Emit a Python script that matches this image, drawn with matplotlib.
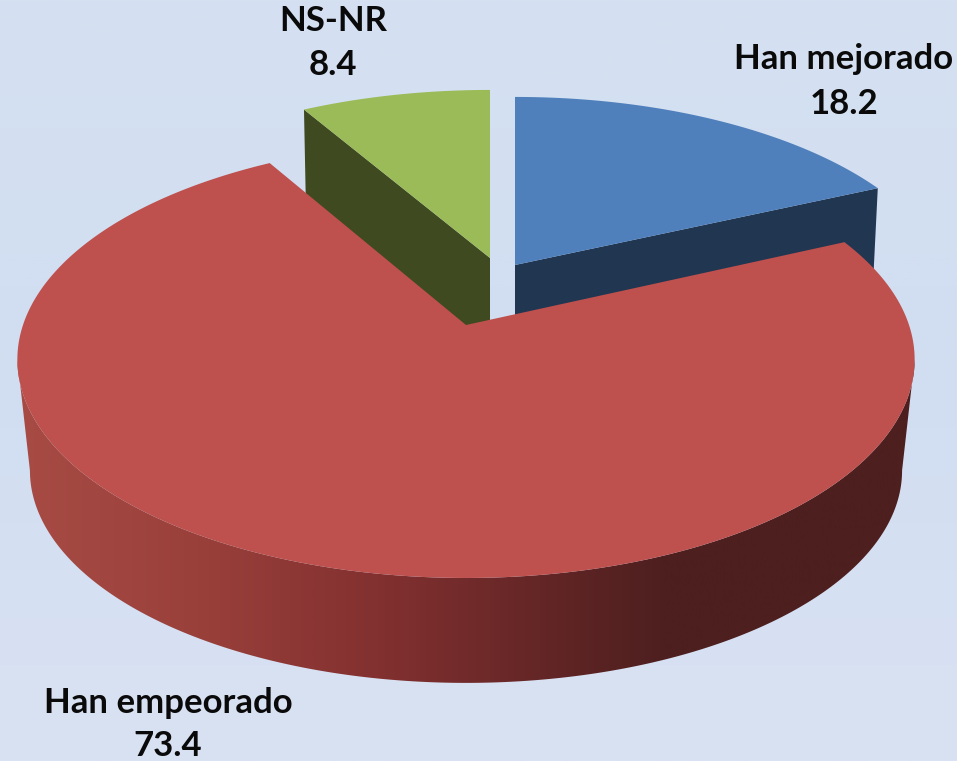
import numpy as np
import matplotlib
matplotlib.use('Agg')
import matplotlib.pyplot as plt
from matplotlib.colors import LinearSegmentedColormap
from matplotlib.patches import Polygon

categories = ['Han mejorado', 'Han empeorado', 'NS-NR']
values = [18.2, 73.4, 8.4]

top_colors = ['#4f80bc', '#be504d', '#9bbb59']
wall_colors = ['#203651', None, '#3f4a20']

# apex of each slice in pixels, and the perspective of its top face
apex = [(515, 265), (466, 325), (490, 258)]
persp = [(430, 200, 0.19), (443, 213, 0.158), (430, 200, 0.19)]
label_xy = [(844, 59, 104), (168, 703, 746), (333, 21, 65)]


def project(theta, center, s, t, p):
    """Clockwise angle from 12 o'clock to pixel position on a tilted disc."""
    u, v = np.sin(theta), -np.cos(theta)
    w = 1 - p * v
    return center[0] + s * u / w, center[1] + t * v / w


def wedge(theta, center, s, t, p):
    x, y = project(theta, center, s, t, p)
    return np.r_[center[0], x], np.r_[center[1], y]


fig = plt.figure(figsize=(9.57, 7.61), dpi=100)
ax = fig.add_axes([0, 0, 1, 1])

# Background
bg = LinearSegmentedColormap.from_list('bg', ['#d5e1f1', '#d1def1', '#d9e2f3'])
ax.imshow(np.linspace(0, 1, 256)[:, None], cmap=bg, aspect='auto',
          extent=(0, 957, 761, 0), zorder=0)

edges = np.radians(np.r_[0, np.cumsum(values)] / np.sum(values) * 360)

# Back slices first, the red one overlaps them
for i in [0, 2]:
    theta = np.linspace(edges[i], edges[i + 1], 100)
    s, t, p = persp[i]
    x, y = wedge(theta, apex[i], s, t, p)
    # flat wall along the inner cut: blue shows its last edge, green its first
    end = -1 if i == 0 else 1
    lean = -5 if i == 0 else 2
    wx = [x[0], x[end], x[end] + lean, x[0]]
    wy = [y[0], y[end], y[end] + 100, y[0] + 90]
    ax.add_patch(Polygon(np.c_[wx, wy], fc=wall_colors[i], ec='none', zorder=1))
    ax.add_patch(Polygon(np.c_[x, y], fc=top_colors[i], ec='none', zorder=2))

# Red slice, outer wall with horizontal shading
s, t, p = persp[1]
cx, cy = apex[1]
theta = np.linspace(np.arccos(-p), 2 * np.pi - np.arccos(-p), 400)
x_top, y_top = project(theta, (cx, cy), s, t, p)
x_low, y_low = project(theta, (cx, cy + 112), s * 0.972, t * 0.972, p)
wall = Polygon(np.c_[np.r_[x_top, x_low[::-1]], np.r_[y_top, y_low[::-1]]],
               fc='none', ec='none', transform=ax.transData)
ax.add_patch(wall)
shade = LinearSegmentedColormap.from_list(
    'shade', [(0, '#a84b45'), (0.2, '#9a403b'), (0.42, '#802f2f'),
              (0.62, '#5e2424'), (0.72, '#4e1f1f'), (1, '#4d1f1e')])
im = ax.imshow(np.linspace(0, 1, 512)[None, :], cmap=shade, aspect='auto',
               extent=(16, 915, 761, 0), zorder=3)
im.set_clip_path(wall)

theta = np.linspace(edges[1], edges[2], 400)
x, y = wedge(theta, (cx, cy), s, t, p)
ax.add_patch(Polygon(np.c_[x, y], fc=top_colors[1], ec='none', zorder=4))

for name, val, (lx, y1, y2) in zip(categories, values, label_xy):
    ax.text(lx, y1, name, ha='center', va='center', fontsize=25,
            family='Lato', weight='bold', color='#0a0a0a', zorder=5)
    ax.text(lx, y2, str(val), ha='center', va='center', fontsize=25,
            family='Lato', weight='bold', color='#0a0a0a', zorder=5)

ax.set_xlim(0, 957)
ax.set_ylim(761, 0)
ax.axis('off')

fig.savefig('out.png', dpi=100)
